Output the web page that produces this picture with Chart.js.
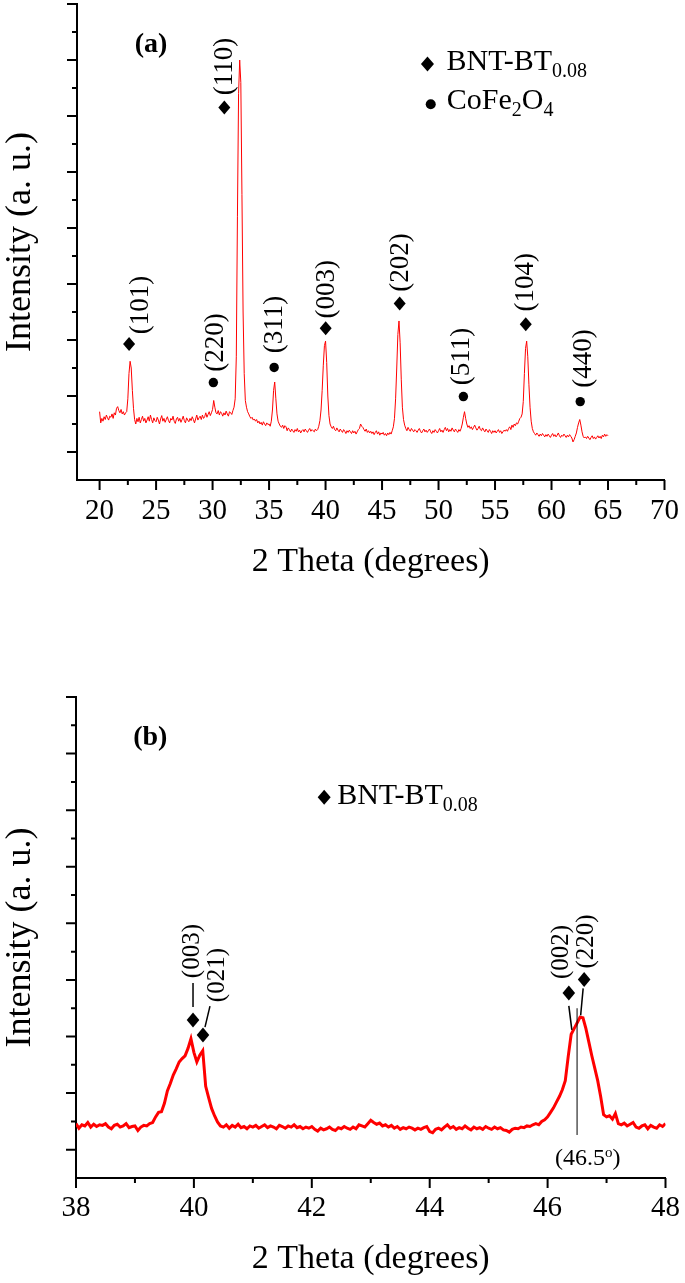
<!DOCTYPE html>
<html>
<head>
<meta charset="utf-8">
<script src="https://cdn.jsdelivr.net/npm/chart.js@4.4.1/dist/chart.umd.min.js"></script>
<style>
  body { margin: 0; background: #fff; }
  canvas { display: block; }
</style>
</head>
<body>
<canvas id="chartA" width="685" height="600"></canvas>
<canvas id="chartB" width="685" height="683"></canvas>
<script>
// scan (a): 20.0 - 65.0 deg, step 0.1 deg
const scanStartA = 20.0, scanStepA = 0.1;
const intensityA = [
  72, 52, 60, 55, 63, 58, 66, 61, 57, 64,
  62, 68, 60, 70, 66, 78, 81, 74, 70, 76,
  68, 72, 66, 70, 72, 95, 140, 162, 150, 110,
  78, 58, 50, 60, 54, 62, 52, 58, 64, 55,
  60, 52, 57, 63, 55, 66, 58, 52, 61, 56,
  54, 62, 57, 50, 59, 65, 55, 60, 53, 58,
  63, 56, 52, 60, 57, 64, 55, 51, 59, 62,
  55, 60, 53, 58, 64, 56, 52, 61, 57, 54,
  60, 56, 63, 58, 52, 59, 66, 57, 61, 64,
  58, 66, 60, 63, 70, 62, 67, 72, 65, 70,
  76, 92, 80, 70, 68, 74, 66, 72, 69, 64,
  70, 66, 73, 68, 64, 72, 70, 67, 74, 80,
  95, 170, 420, 640, 700, 660, 460, 250, 140, 92,
  80, 72, 68, 63, 60, 62, 57, 59, 55, 58,
  52, 55, 50, 53, 48, 54, 50, 47, 52, 49,
  50, 46, 55, 75, 110, 125, 95, 68, 55, 50,
  46, 44, 48, 42, 47, 45, 38, 43, 40, 36,
  41, 38, 35, 40, 37, 42, 36, 39, 34, 38,
  40, 36, 41, 38, 35, 39, 42, 37, 40, 38,
  36, 41, 38, 40, 46, 56, 75, 110, 155, 190,
  198, 160, 100, 65, 50, 45, 42, 46, 40, 38,
  43, 39, 36, 41, 38, 35, 40, 37, 33, 38,
  35, 39, 36, 33, 38, 34, 37, 32, 36, 40,
  42, 50, 46, 44, 40, 37, 41, 35, 38, 34,
  37, 33, 36, 31, 35, 38, 32, 36, 30, 34,
  32, 35, 30, 33, 29, 34, 31, 35, 32, 38,
  45, 60, 95, 150, 210, 234, 195, 130, 80, 58,
  48, 42, 38, 44, 40, 37, 42, 39, 36, 40,
  38, 35, 39, 42, 37, 34, 38, 41, 36, 39,
  35, 38, 41, 36, 33, 38, 35, 40, 37, 34,
  38, 42, 36, 39, 35, 40, 44, 38, 42, 36,
  40, 37, 43, 39, 36, 41, 38, 35, 40, 37,
  42, 50, 62, 72, 60, 50, 44, 47, 42, 45,
  40, 44, 48, 43, 39, 42, 46, 40, 38, 43,
  39, 36, 41, 38, 35, 40, 37, 33, 38, 35,
  38, 34, 37, 40, 35, 38, 33, 36, 39, 37,
  40, 37, 42, 45, 40, 48, 44, 50, 47, 52,
  50, 55, 60, 62, 68, 90, 140, 185, 198, 170,
  120, 80, 55, 42, 36, 33, 30, 34, 31, 28,
  32, 29, 33, 30, 27, 31, 28, 32, 29, 26,
  30, 33, 28, 31, 27, 30, 34, 29, 26, 30,
  28, 32, 29, 26, 30, 27, 31, 28, 25, 18,
  22, 28, 34, 44, 52, 58, 48, 36, 28, 25,
  27, 24, 28, 25, 22, 26, 29, 24, 27, 23,
  26, 29, 25, 28, 24, 30, 27, 32, 28, 31,
  29
];

// scan (b): 38.00 - 48.00 deg, step 0.05 deg
const scanStartB = 38.0, scanStepB = 0.05;
const intensityB = [
  46, 38, 44, 42, 48, 40, 45, 41, 44, 43, 46, 40, 37, 43, 45, 40, 42, 46, 39, 41,
  42, 34, 40, 43, 42, 46, 48, 58, 66, 67, 82, 104, 117, 132, 143, 155, 161, 166, 179, 196,
  172, 155, 167, 175, 112, 92, 73, 60, 49, 42, 40, 44, 38, 43, 40, 45, 39, 41, 37, 42,
  40, 43, 38, 41, 44, 39, 42, 40, 37, 43, 41, 38, 42, 40, 44, 39, 41, 37, 40, 38,
  41, 36, 33, 38, 35, 37, 40, 36, 34, 39, 37, 41, 38, 36, 40, 37, 44, 42, 40, 46,
  52, 48, 45, 47, 42, 44, 40, 43, 38, 41, 36, 39, 37, 40, 38, 35, 38, 36, 39, 41,
  32, 30, 36, 38, 35, 40, 44, 38, 41, 36, 39, 37, 42, 38, 35, 40, 37, 39, 36, 41,
  38, 36, 40, 37, 39, 35, 34, 31, 36, 38, 37, 40, 39, 42, 41, 44, 46, 44, 50, 53,
  58, 66, 74, 84, 94, 106, 122, 165, 204, 214, 224, 234, 233, 214, 190, 166, 144, 122, 94, 62,
  58, 60, 54, 64, 46, 44, 47, 42, 45, 48, 40, 38, 42, 44, 37, 43, 40, 38, 44, 41,
  46
];

const xTicksA = [20, 25, 30, 35, 40, 45, 50, 55, 60, 65, 70];
const xMinorA = [22.5, 27.5, 32.5, 37.5, 42.5, 47.5, 52.5, 57.5, 62.5, 67.5];
const xTicksB = [38, 40, 42, 44, 46, 48];
const xMinorB = [39, 41, 43, 45, 47];
const yTicks = [0, 100, 200, 300, 400, 500, 600, 700, 800];
const yMinor = [50, 150, 250, 350, 450, 550, 650, 750];

const peakNamesA = ['(101)', '(220)', '(110)', '(311)', '(003)', '(202)', '(511)', '(104)', '(440)'];
const peakPhaseA = ['bnt', 'cfo', 'bnt', 'cfo', 'bnt', 'bnt', 'cfo', 'bnt', 'cfo'];
const peakNamesB = ['(003)', '(021)', '(002)', '(220)'];

const SERIF = "'Liberation Serif', 'Times New Roman', serif";
Chart.defaults.font.family = SERIF;
Chart.defaults.color = '#000';

// annotation placement (data coords of marker + pixel offsets of text)
const decor = {
  chartA: {
    xMajor: xTicksA, xMinor: xMinorA, labelSize: 27, mark: [6, 7], dotR: 4.7,
    panel: { text: '(a)', x: 23.11, y: 714 },
    legend: [
      { mark: 'bnt', x: 49.02, y: 693, tx: 19, ty: 6, parts: [['BNT-BT', 0], ['0.08', 1]] },
      { mark: 'cfo', x: 49.31, y: 621, tx: 16, ty: 5, parts: [['CoFe', 0], ['2', 1], ['O', 0], ['4', 1]] }
    ],
    peaks: [
      { x: 22.61, y: 193, dx: 12, dy: -39 },
      { x: 30.07, y: 124, dx: 3, dy: -40 },
      { x: 31.04, y: 615, dx: 1, dy: -41 },
      { x: 35.45, y: 151, dx: 1, dy: -43 },
      { x: 40.01, y: 221, dx: 1, dy: -39 },
      { x: 46.56, y: 265, dx: 1, dy: -41 },
      { x: 52.20, y: 99, dx: -1, dy: -40 },
      { x: 57.72, y: 228, dx: 0, dy: -42 },
      { x: 62.54, y: 90, dx: 4, dy: -43 }
    ].map((p, i) => Object.assign(p, { text: peakNamesA[i], mark: peakPhaseA[i] }))
  },
  chartB: {
    xMajor: xTicksB, xMinor: xMinorB, labelSize: 25, mark: [6.3, 7.5], dotR: 4.7,
    panel: { text: '(b)', x: 38.97, y: 715 },
    legend: [
      { mark: 'bnt', x: 42.21, y: 623, tx: 13, ty: 7, parts: [['BNT-BT', 0], ['0.08', 1]] }
    ],
    peaks: [
      { x: 39.985, y: 229, dx: -1, dy: -69, lead: [[0, -13], [0, -37]] },
      { x: 40.154, y: 202.5, dx: 14, dy: -60, lead: [[2, -8], [7, -29]] },
      { x: 46.36, y: 277, dx: -7, dy: -41, lead: [[0, 13], [3, 37]] },
      { x: 46.62, y: 301, dx: 2, dy: -38, lead: [[-1, 9], [-3.5, 36]] }
    ].map((p, i) => Object.assign(p, { text: peakNamesB[i], mark: 'bnt' })),
    centre: { x: 46.5, y1: 250, y2: 26, ty: -27 }
  }
};

function drawDiamond(ctx, cx, cy, hw, hh) {
  ctx.beginPath();
  ctx.moveTo(cx, cy - hh);
  ctx.lineTo(cx + hw, cy);
  ctx.lineTo(cx, cy + hh);
  ctx.lineTo(cx - hw, cy);
  ctx.closePath();
  ctx.fill();
}

function drawDot(ctx, cx, cy, r) {
  ctx.beginPath();
  ctx.arc(cx, cy, r, 0, Math.PI * 2);
  ctx.fill();
}

const decorPlugin = {
  id: 'decor',
  afterDraw(chart) {
    const cfg = decor[chart.canvas.id];
    const { ctx, chartArea: area } = chart;
    const px = v => chart.scales.x.getPixelForValue(v);
    const py = v => chart.scales.y.getPixelForValue(v);
    ctx.save();
    ctx.fillStyle = '#000';
    ctx.strokeStyle = '#000';

    // tick marks, outward
    ctx.lineWidth = 2;
    ctx.beginPath();
    cfg.xMajor.forEach(v => { ctx.moveTo(px(v), area.bottom); ctx.lineTo(px(v), area.bottom + 10); });
    cfg.xMinor.forEach(v => { ctx.moveTo(px(v), area.bottom); ctx.lineTo(px(v), area.bottom + 5); });
    yTicks.forEach(v => { ctx.moveTo(area.left, py(v)); ctx.lineTo(area.left - 10, py(v)); });
    yMinor.forEach(v => { ctx.moveTo(area.left, py(v)); ctx.lineTo(area.left - 5, py(v)); });
    ctx.stroke();

    // panel label
    ctx.textAlign = 'left';
    ctx.textBaseline = 'alphabetic';
    ctx.font = 'bold 28px ' + SERIF;
    ctx.fillText(cfg.panel.text, px(cfg.panel.x), py(cfg.panel.y));

    // legend
    cfg.legend.forEach(item => {
      const mx = px(item.x), my = py(item.y);
      if (item.mark === 'bnt') drawDiamond(ctx, mx, my, 6.5, 7.5);
      else drawDot(ctx, mx, my, 5);
      let tx = mx + item.tx;
      const base = my + item.ty;
      item.parts.forEach(([s, sub]) => {
        ctx.font = (sub ? '20px ' : '30px ') + SERIF;
        ctx.fillText(s, tx, base + (sub ? 7 : 0));
        tx += ctx.measureText(s).width;
      });
    });

    // peak markers and rotated Miller indices
    cfg.peaks.forEach(p => {
      const mx = px(p.x), my = py(p.y);
      if (p.mark === 'bnt') drawDiamond(ctx, mx, my, cfg.mark[0], cfg.mark[1]);
      else drawDot(ctx, mx, my, cfg.dotR);
      if (p.lead) {
        ctx.lineWidth = 1.5;
        ctx.beginPath();
        ctx.moveTo(mx + p.lead[0][0], my + p.lead[0][1]);
        ctx.lineTo(mx + p.lead[1][0], my + p.lead[1][1]);
        ctx.stroke();
      }
      ctx.save();
      ctx.translate(mx + p.dx, my + p.dy);
      ctx.rotate(-Math.PI / 2);
      ctx.font = cfg.labelSize + 'px ' + SERIF;
      ctx.textAlign = 'center';
      ctx.textBaseline = 'middle';
      ctx.fillText(p.text, 0, 0);
      ctx.restore();
    });

    // 46.5 deg guide line
    if (cfg.centre) {
      const c = cfg.centre, cx = px(c.x);
      ctx.lineWidth = 1;
      ctx.beginPath();
      ctx.moveTo(cx, py(c.y1));
      ctx.lineTo(cx, py(c.y2));
      ctx.stroke();
      let tx = cx - 22;
      const base = py(c.ty);
      [['(46.5', 0], ['o', 1], [')', 0]].forEach(([s, sup]) => {
        ctx.font = (sup ? '15px ' : '24px ') + SERIF;
        ctx.fillText(s, tx, base - (sup ? 8 : 0));
        tx += ctx.measureText(s).width;
      });
    }
    ctx.restore();
  }
};

function makeChart(id, start, step, values, opt) {
  const points = values.map((v, i) => ({ x: start + i * step, y: v }));
  return new Chart(document.getElementById(id), {
    type: 'line',
    data: {
      datasets: [{
        data: points,
        borderColor: '#ff0000',
        borderWidth: opt.lineWidth,
        pointRadius: 0,
        tension: 0,
        fill: false
      }]
    },
    options: {
      responsive: false,
      animation: false,
      devicePixelRatio: 1,
      layout: { padding: { top: opt.top, right: 18, left: 0, bottom: 0 } },
      plugins: { legend: { display: false }, tooltip: { enabled: false } },
      scales: {
        x: {
          type: 'linear',
          min: opt.xMin,
          max: opt.xMax,
          afterBuildTicks: s => { s.ticks = opt.xTicks.map(v => ({ value: v })); },
          afterFit: s => { s.height = opt.xHeight; },
          ticks: { autoSkip: false, maxRotation: 0, padding: opt.tickPad, color: '#000', font: { size: 29 } },
          grid: { display: false },
          border: { display: true, color: '#000', width: 2 },
          title: { display: true, text: '2 Theta (degrees)', color: '#000', font: { size: 34 }, padding: { top: 0, bottom: opt.titlePad } }
        },
        y: {
          type: 'linear',
          min: -50,
          max: 800,
          afterFit: s => { s.width = opt.left; },
          ticks: { display: false },
          grid: { display: false },
          border: { display: true, color: '#000', width: 2 },
          title: { display: true, text: 'Intensity (a. u.)', color: '#000', font: { size: 36 }, padding: { top: -1, bottom: 0 } }
        }
      }
    },
    plugins: [decorPlugin]
  });
}

makeChart('chartA', scanStartA, scanStepA, intensityA, {
  lineWidth: 1, top: 4, left: 77, xMin: 18, xMax: 70, xTicks: xTicksA, xHeight: 120, tickPad: 6, titlePad: 18
});
makeChart('chartB', scanStartB, scanStepB, intensityB, {
  lineWidth: 3, top: 97, left: 76, xMin: 38, xMax: 48, xTicks: xTicksB, xHeight: 105, tickPad: 5, titlePad: 4
});
</script>
</body>
</html>
